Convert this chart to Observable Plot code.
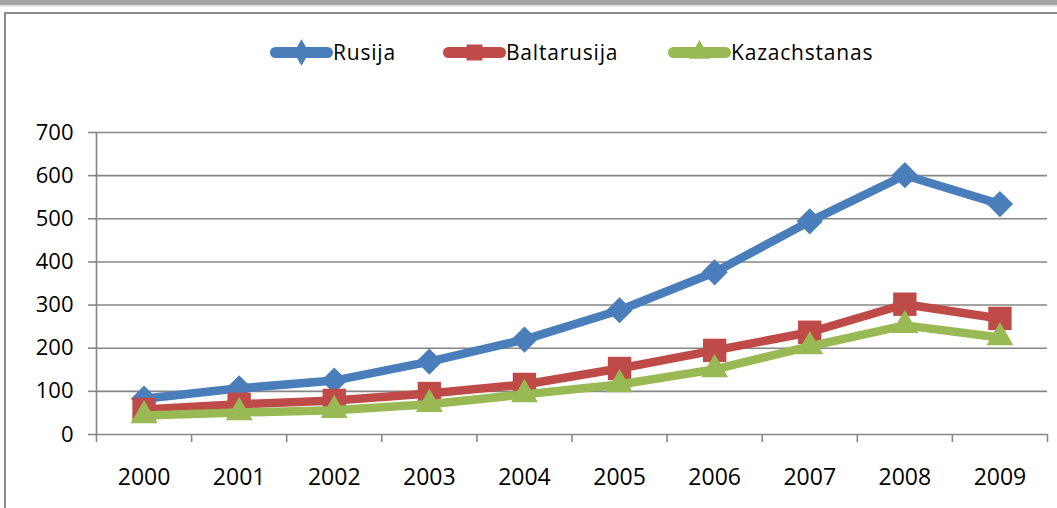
<!DOCTYPE html>
<html>
<head>
<meta charset="utf-8">
<script src="https://cdn.jsdelivr.net/npm/d3@7"></script>
<script src="https://cdn.jsdelivr.net/npm/@observablehq/plot@0.6"></script>
<style>
  html, body { margin: 0; padding: 0; background: #fff; }
  body { width: 1057px; height: 508px; position: relative; overflow: hidden; font-family: "Open Sans", sans-serif; }
  #topbar { position: absolute; left: 0; top: 0; width: 1057px; height: 5px; background: #a3a3a3; }
  #topbar2 { position: absolute; left: 0; top: 5px; width: 1057px; height: 2px; background: #e6e6e6; }
  #frame { position: absolute; left: 4px; top: 12px; width: 1100px; height: 600px; border-left: 2px solid #8c8c8c; border-top: 2px solid #8c8c8c; box-sizing: border-box; }
  #chart { position: absolute; left: 0; top: 0; }
  #legend { position: absolute; top: 34px; left: 0; width: 1057px; height: 36px; }
  .item { position: absolute; top: 0; display: flex; align-items: center; height: 36px; }
  .item span { font-size: 21px; letter-spacing: 0.8px; color: #000; margin-left: 1px; }
</style>
</head>
<body>
<div id="topbar"></div>
<div id="topbar2"></div>
<div id="frame"></div>
<div id="chart"></div>
<div id="legend"></div>
<script>
const years = ["2000","2001","2002","2003","2004","2005","2006","2007","2008","2009"];
const seriesNames = ["Rusija", "Baltarusija", "Kazachstanas"];
const rusija       = [83, 107, 125, 169, 220, 288, 376, 494, 601, 534];
const baltarusija  = [58, 70, 79, 95, 116, 153, 195, 237, 302, 269];
const kazachstanas = [44, 51, 56, 70, 93, 116, 151, 204, 253, 225];
const yTicks = [0, 100, 200, 300, 400, 500, 600, 700];
const colors = ["#4a7ebb", "#be4b48", "#98b954"];
const symbols = ["diamond2", "square", "triangle"];
const legendSymbols = ["diamond", "square", "triangle"];
const radii = [11.8, 13.2, 10];

const values = [rusija, baltarusija, kazachstanas];
const data = [];
seriesNames.forEach((s, k) => years.forEach((yr, i) => data.push({series: s, idx: i + 0.5, year: yr, value: values[k][i]})));

const gray = "#868686";
const marks = [
  Plot.ruleY(yTicks.slice(1), {stroke: gray, strokeWidth: 1.6}),
  Plot.axisY({ticks: yTicks, label: null, tickSize: 8, tickPadding: 15, stroke: gray, strokeWidth: 1.6, fill: "#000", fontSize: 22}),
  Plot.axisX({ticks: d3.range(years.length + 1), label: null, tickSize: 8, tickFormat: () => "", stroke: gray, strokeWidth: 1.6}),
  Plot.axisX({ticks: years.map((d, i) => i + 0.5), label: null, tickSize: 0, tickPadding: 34, tickFormat: d => years[Math.floor(d)], fill: "#000", fontSize: 23}),
  Plot.ruleX([0], {y1: 0, y2: 700, stroke: gray, strokeWidth: 1.6}),
  Plot.ruleY([0], {stroke: gray, strokeWidth: 1.6})
];
seriesNames.forEach((s, k) => {
  const d = data.filter(r => r.series === s);
  marks.push(Plot.line(d, {x: "idx", y: "value", stroke: colors[k], strokeWidth: 8.5, strokeLinejoin: "round", strokeLinecap: "round"}));
  marks.push(Plot.dot(d, {x: "idx", y: "value", fill: colors[k], stroke: "none", symbol: symbols[k], r: radii[k]}));
});

const chart = Plot.plot({
  width: 1057,
  height: 508,
  marginLeft: 96,
  marginRight: 10,
  marginTop: 132,
  marginBottom: 74,
  style: {fontFamily: "Open Sans", fontSize: "20px", background: "transparent", overflow: "visible"},
  x: {type: "linear", domain: [0, years.length], axis: null},
  y: {domain: [0, 700], axis: null},
  marks
});
document.getElementById("chart").appendChild(chart);

// legend
const legend = document.getElementById("legend");
const legendX = [270, 443, 668];
seriesNames.forEach((s, k) => {
  const item = document.createElement("div");
  item.className = "item";
  item.style.left = legendX[k] + "px";
  const sw = Plot.plot({
    width: 62, height: 36, margin: 0,
    x: {domain: [0, 1], axis: null}, y: {domain: [0, 1], axis: null},
    style: {background: "transparent", overflow: "visible"},
    marks: [
      Plot.line([{x: 0.08, y: 0.5}, {x: 0.92, y: 0.5}], {x: "x", y: "y", stroke: colors[k], strokeWidth: 11, strokeLinecap: "round"}),
      Plot.dot([{x: 0.5, y: 0.5}], {x: "x", y: "y", fill: colors[k], symbol: legendSymbols[k], r: symbols[k] === "square" ? 9 : 8})
    ]
  });
  item.appendChild(sw);
  const t = document.createElement("span");
  t.textContent = s;
  item.appendChild(t);
  legend.appendChild(item);
});
</script>
</body>
</html>
